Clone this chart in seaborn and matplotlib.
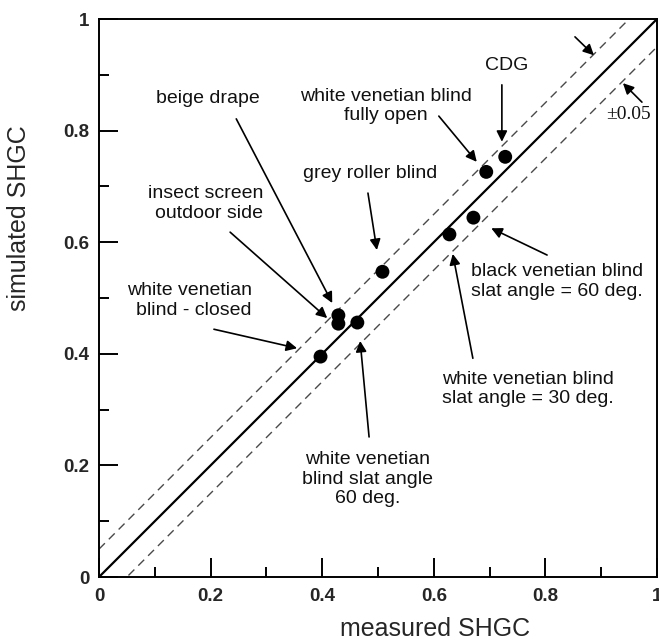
import matplotlib
matplotlib.use("Agg")
import matplotlib.pyplot as plt
import seaborn as sns
import numpy as np
import pandas as pd

# ---- data ----
measured = [0.397, 0.429, 0.429, 0.463, 0.508, 0.628, 0.671, 0.694, 0.728]
simulated = [0.395, 0.469, 0.454, 0.456, 0.547, 0.614, 0.644, 0.726, 0.753]
line_x = [0.0, 1.0]
band_offsets = [0.05, -0.05]
tick_values = [0, 0.2, 0.4, 0.6, 0.8, 1.0]
tick_labels = ["0", "0.2", "0.4", "0.6", "0.8", "1"]

annotations = [
    # text, text position, arrow tail, arrow tip, ha
    ("CDG", (0.730, 0.916), (0.722, 0.882), (0.722, 0.780), "center"),
    ("white venetian blind\nfully open", (0.514, 0.844), (0.609, 0.826), (0.677, 0.744), "center"),
    ("grey roller blind", (0.486, 0.724), (0.482, 0.688), (0.498, 0.586), "center"),
    ("beige drape", (0.196, 0.857), (0.246, 0.821), (0.418, 0.491), "center"),
    ("insect screen\noutdoor side", (0.294, 0.669), (0.235, 0.618), (0.409, 0.464), "right"),
    ("white venetian\nblind - closed", (0.274, 0.495), (0.206, 0.444), (0.355, 0.410), "right"),
    ("white venetian\nblind slat angle\n60 deg.", (0.482, 0.175), (0.484, 0.251), (0.468, 0.423), "center"),
    ("black venetian blind\nslat angle = 60 deg.", (0.667, 0.530), (0.803, 0.577), (0.703, 0.625), "left"),
    ("white venetian blind\nslat angle = 30 deg.", (0.615, 0.337), (0.670, 0.392), (0.634, 0.579), "left"),
]
band_arrows = [((0.853, 0.968), (0.887, 0.935)), ((0.973, 0.851), (0.939, 0.885))]

sns.set_style("white")
plt.rcParams["font.family"] = ["Liberation Sans", "DejaVu Sans"]

fig = plt.figure(figsize=(6.59, 6.42), dpi=100)
ax = fig.add_axes([99 / 659, 65 / 642, 558 / 659, 558 / 642])

df_pts = pd.DataFrame({"measured": measured, "simulated": simulated})

# reference lines
diag = pd.DataFrame({"x": line_x, "y": line_x})
sns.lineplot(data=diag, x="x", y="y", ax=ax, color="black", lw=1.6, zorder=2)
for off in band_offsets:
    band = pd.DataFrame({"x": line_x, "y": [v + off for v in line_x]})
    sns.lineplot(data=band, x="x", y="y", ax=ax, color="#4a4a4a", lw=1.0,
                 linestyle=(0, (6, 4)), zorder=2)

sns.scatterplot(data=df_pts, x="measured", y="simulated", ax=ax, s=100,
                color="black", edgecolor="none", zorder=3)

ax.set_xlim(0, 1)
ax.set_ylim(0, 1)
ax.set_aspect("auto")

ax.set_xticks(tick_values)
ax.set_yticks(tick_values)
ax.set_xticklabels(tick_labels, fontsize=13.5, fontweight="bold")
ax.set_yticklabels(tick_labels, fontsize=13.5, fontweight="bold")
ax.set_xticks(np.arange(0.1, 1.0, 0.2), minor=True)
ax.set_yticks(np.arange(0.1, 1.0, 0.2), minor=True)
ax.tick_params(which="major", direction="in", length=13.7, width=1.4,
               left=True, bottom=True, top=False, right=False, color="black")
ax.tick_params(which="minor", direction="in", length=7, width=1.4,
               left=True, bottom=True, top=False, right=False, color="black")
ax.tick_params(axis="x", which="major", pad=8)
ax.tick_params(axis="y", which="major", pad=7)

for sp in ax.spines.values():
    sp.set_visible(True)
    sp.set_color("black")
    sp.set_linewidth(1.4)

ax.set_xlabel("measured SHGC", fontsize=18)
ax.set_ylabel("simulated SHGC", fontsize=18)
ax.xaxis.set_label_coords(0.602, (577 - 629) / 558)
ax.xaxis.label.set_va("center")
ax.yaxis.set_label_coords((19 - 99) / 558, 0.643)
ax.yaxis.label.set_va("center")

arrow_kw = dict(arrowstyle="-|>", color="black", lw=1.2, mutation_scale=16,
                shrinkA=0, shrinkB=0)

for text, tpos, tail, tip, ha in annotations:
    ax.text(tpos[0], tpos[1], text, ha=ha, va="center", multialignment=ha,
            fontsize=14, color="#111111", linespacing=1.2, zorder=4)
    ax.annotate("", xy=tip, xytext=tail, arrowprops=arrow_kw, zorder=4)

ax.text(0.949, 0.828, "\u00b10.05", ha="center", va="center", fontsize=14,
        family=["Liberation Serif", "DejaVu Serif"], color="#111111")
for tail, tip in band_arrows:
    ax.annotate("", xy=tip, xytext=tail, arrowprops=arrow_kw, zorder=4)

legend = ax.get_legend()
if legend is not None:
    legend.remove()

fig.savefig("out.png", dpi=100)
